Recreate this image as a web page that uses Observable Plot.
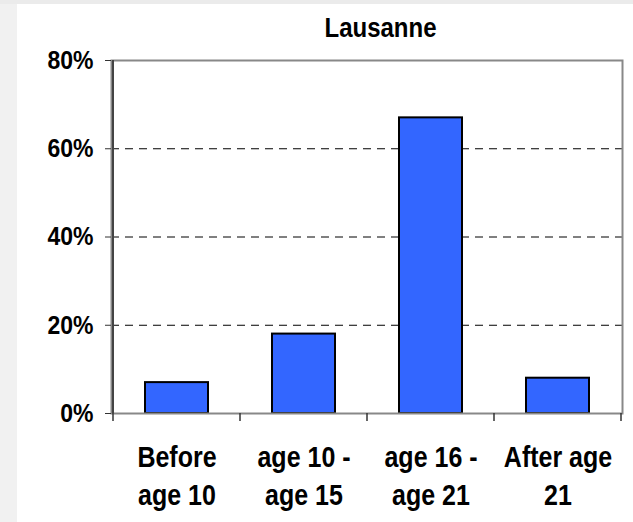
<!DOCTYPE html>
<html>
<head>
<meta charset="utf-8">
<script src="https://cdn.jsdelivr.net/npm/d3@7"></script>
<script src="https://cdn.jsdelivr.net/npm/@observablehq/plot@0.6"></script>
<style>
  html, body { margin: 0; padding: 0; }
  body { width: 633px; height: 522px; background: #f1f1f1; position: relative; overflow: hidden;
         font-family: "Liberation Sans", Arial, sans-serif; }
  #topstrip { position: absolute; left: 0; top: 0; width: 633px; height: 4px; background: #ebebeb; }
  #panel { position: absolute; left: 17px; top: 4px; width: 616px; height: 518px; background: #ffffff; }
  #title { position: absolute; left: 0; top: 0; width: 505px; z-index: 2;
           height: 31px; padding-top: 13px; line-height: 24px; font-size: 24px; font-weight: bold;
           text-align: center; padding-left: 111px; color: #000;
           transform: scaleY(1.15); transform-origin: 50% 33px; }
  #chart { position: absolute; left: 0; top: 0; }
  #chart svg { display: block; }
</style>
</head>
<body>
<div id="topstrip"></div>
<div id="panel">
  <div id="title">Lausanne</div>
  <div id="chart"></div>
</div>
<script>
const categories = ["Before age 10", "age 10 - age 15", "age 16 - age 21", "After age 21"];
const categoryLabels = ["Before\nage 10", "age 10 -\nage 15", "age 16 -\nage 21", "After age\n21"];
const values = [7, 18, 67, 8];
const yTicks = [0, 20, 40, 60, 80];
const gridTicks = [20, 40, 60];

const data = categories.map((c, i) => ({category: c, value: values[i]}));
const labelOf = new Map(categories.map((c, i) => [c, categoryLabels[i]]));

// darker value-axis line and tick marks at the boundaries between categories, placed through the scales
function axisLines(index, scales) {
  const x = scales.x, y = scales.y;
  const xs = categories.map(c => x(c));
  const step = xs[1] - xs[0];
  xs.push(xs[xs.length - 1] + step);
  const y0 = y(0);
  const g = d3.create("svg:g");
  g.append("line")
    .attr("x1", xs[0]).attr("x2", xs[0])
    .attr("y1", y(yTicks[yTicks.length - 1])).attr("y2", y0)
    .attr("stroke", "#444").attr("stroke-width", 2);
  g.selectAll("line.bt").data(xs).join("line").attr("class", "bt")
    .attr("x1", d => d).attr("x2", d => d)
    .attr("y1", y0).attr("y2", y0 + 8)
    .attr("stroke", "#333").attr("stroke-width", 1.5);
  return g.node();
}

const chart = Plot.plot({
  width: 616,
  height: 518,
  marginTop: 56,
  marginBottom: 109,
  marginLeft: 94,
  marginRight: 11,
  style: {fontFamily: '"Liberation Sans", Arial, sans-serif', fontWeight: "bold", color: "#000", background: "white"},
  x: {type: "band", domain: categories, padding: 0},
  y: {domain: [0, 80]},
  marks: [
    Plot.ruleY(gridTicks, {stroke: "#000", strokeWidth: 1, strokeDasharray: "8,6"}),
    Plot.barY(data, {x: "category", y: "value", fill: "#3366ff", stroke: "#000", strokeWidth: 2, insetLeft: 32, insetRight: 32}),
    Plot.frame({stroke: "#888", strokeWidth: 2}),
    Plot.axisY({ticks: yTicks, tickFormat: d => d + "%", tickSize: 6, tickPadding: 12, fontSize: 23, stroke: "#333", label: null}),
    Plot.axisX({tickSize: 0, tickPadding: 26, fontSize: 25, lineHeight: 1.34, tickFormat: d => labelOf.get(d), label: null}),
    axisLines
  ]
});
// the reference glyphs are slightly taller than regular Arial proportions: stretch tick labels vertically
d3.select(chart).selectAll("g[aria-label='x-axis tick label'] text, g[aria-label='y-axis tick label'] text")
  .each(function () {
    const t = this.getAttribute("transform") || "";
    this.setAttribute("transform", (t + " scale(1,1.15)").trim());
  });
document.getElementById("chart").appendChild(chart);
</script>
</body>
</html>
